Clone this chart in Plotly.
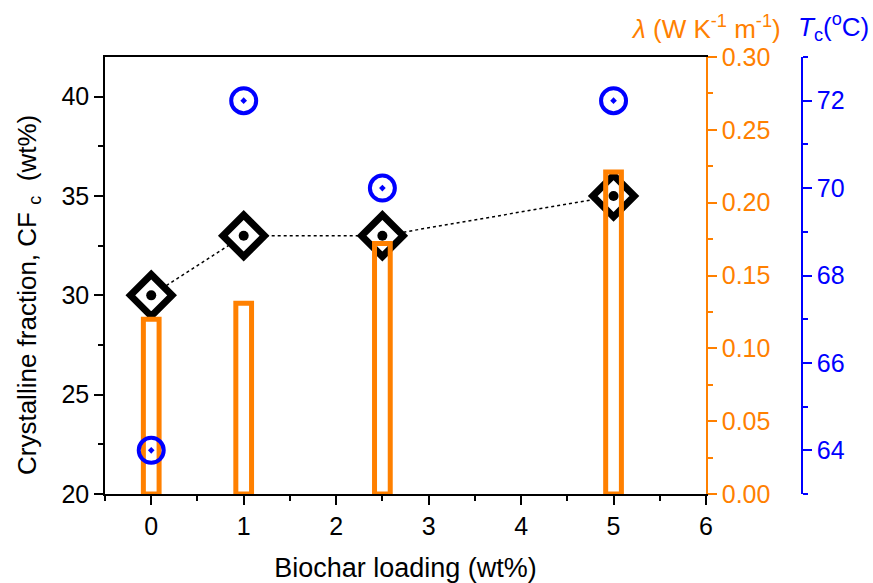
import plotly.graph_objects as go

loading = [0, 1, 2.5, 5]
cf = [30, 33, 33, 35]
lam = [0.12, 0.131, 0.172, 0.221]
tc = [64, 72, 70, 72]

FONT = "Liberation Sans, Arial, sans-serif"
ORANGE = "#FF8000"
BLUE = "#0000FF"

fig = go.Figure()

fig.add_trace(go.Scatter(
    x=loading, y=cf, mode="lines+markers", yaxis="y",
    line=dict(color="black", width=1.5, dash="dot"),
    marker=dict(symbol="diamond", size=32, color="white",
                line=dict(color="black", width=7)),
    showlegend=False))

fig.add_trace(go.Scatter(
    x=loading, y=cf, mode="markers", yaxis="y",
    marker=dict(symbol="circle", size=10, color="black", line=dict(width=0)),
    showlegend=False, hoverinfo="skip"))

fig.add_trace(go.Bar(
    x=loading, y=lam, yaxis="y2", width=0.17,
    marker=dict(color="rgba(0,0,0,0)", line=dict(color=ORANGE, width=5)),
    showlegend=False))

fig.add_trace(go.Scatter(
    x=loading, y=tc, mode="markers", yaxis="y3",
    marker=dict(symbol="circle-open-dot", size=25, color=BLUE,
                line=dict(color=BLUE, width=4)),
    showlegend=False))

TS = 25
tickfont = dict(family=FONT, size=TS, color="black")
ML, MB, MT = 105, 89, 57
PW, PH = 697, 437

fig.update_layout(
    width=873, height=583,
    margin=dict(l=ML, r=71, t=MT, b=MB),
    plot_bgcolor="white", paper_bgcolor="white",
    font=dict(family=FONT, size=TS, color="black"),
    xaxis=dict(
        domain=[0, 601/PW], range=[-0.5, 6], automargin=False,
        tickmode="array", tickvals=[0, 1, 2, 3, 4, 5, 6],
        ticks="outside", ticklen=9, tickwidth=1.5, tickcolor="black",
        minor=dict(tickvals=[-0.5, 0.5, 1.5, 2.5, 3.5, 4.5, 5.5], ticks="outside",
                   ticklen=5, tickwidth=1.5, tickcolor="black"),
        showline=True, linecolor="black", linewidth=1.5, mirror=True,
        showgrid=False, zeroline=False, tickfont=tickfont,
        title=dict(text="Biochar loading (wt%)", font=dict(family=FONT, size=27), standoff=19),
    ),
    yaxis=dict(
        range=[20, 42], tickvals=[20, 25, 30, 35, 40], automargin=False,
        ticks="outside", ticklen=9, tickwidth=1.5, tickcolor="black",
        minor=dict(tickvals=[22.5, 27.5, 32.5, 37.5], ticks="outside",
                   ticklen=5, tickwidth=1.5, tickcolor="black"),
        showline=True, linecolor="black", linewidth=1.5,
        showgrid=False, zeroline=False, tickfont=tickfont,
    ),
    yaxis2=dict(
        overlaying="y", side="right", anchor="x", automargin=False,
        range=[0, 0.30], tickvals=[0, 0.05, 0.10, 0.15, 0.20, 0.25, 0.30],
        tickformat=".2f",
        ticks="outside", ticklen=9, tickwidth=1.5, tickcolor=ORANGE,
        minor=dict(tickvals=[0.025, 0.075, 0.125, 0.175, 0.225, 0.275], ticks="outside",
                   ticklen=5, tickwidth=1.5, tickcolor=ORANGE),
        showline=True, linecolor=ORANGE, linewidth=1.5,
        showgrid=False, zeroline=False,
        tickfont=dict(family=FONT, size=TS, color=ORANGE),
    ),
    yaxis3=dict(
        overlaying="y", side="right", anchor="free", position=1.0, automargin=False,
        range=[63, 73], tickvals=[64, 66, 68, 70, 72],
        ticks="outside", ticklen=9, tickwidth=1.5, tickcolor=BLUE,
        minor=dict(tickvals=[63, 65, 67, 69, 71, 73], ticks="outside",
                   ticklen=5, tickwidth=1.5, tickcolor=BLUE),
        showline=True, linecolor=BLUE, linewidth=1.5,
        showgrid=False, zeroline=False,
        tickfont=dict(family=FONT, size=TS, color=BLUE),
    ),
    annotations=[
        dict(text="Crystalline fraction, CF&nbsp;<sub>c</sub>&nbsp; (wt%)", textangle=-90,
             xref="paper", yref="paper",
             x=(28-ML)/PW, y=(583-MB-295)/PH, xanchor="center", yanchor="middle",
             showarrow=False, font=dict(family=FONT, size=26, color="black")),
        dict(text="<i>λ</i> (W K<sup>-1</sup> m<sup>-1</sup>)", xref="paper", yref="paper",
             x=(706-ML)/PW, y=(583-MB-27)/PH, xanchor="center", yanchor="middle", showarrow=False,
             font=dict(family=FONT, size=26, color=ORANGE)),
        dict(text="<i>T</i><sub>c</sub>(<sup>o</sup>C)", xref="paper", yref="paper",
             x=(833-ML)/PW, y=(583-MB-27)/PH, xanchor="center", yanchor="middle", showarrow=False,
             font=dict(family=FONT, size=26, color=BLUE)),
    ],
)

fig.write_html("out.html")
